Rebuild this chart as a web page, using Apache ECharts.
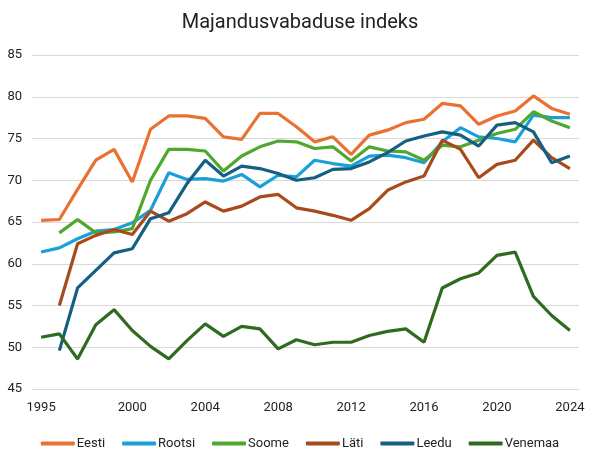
<!DOCTYPE html>
<html>
<head>
<meta charset="utf-8">
<script src="https://cdn.jsdelivr.net/npm/echarts@6/dist/echarts.min.js"></script>
<style>html,body{margin:0;padding:0;background:#fff}#c{width:600px;height:465px}</style>
</head>
<body>
<div id="c"></div>
<script>
var years = [];
for (var y = 1995; y <= 2024; y++) years.push(String(y));
var tickLabels = ['1995','2000','2004','2008','2012','2016','2020','2024'];
var eesti   = [65.2,65.3,68.9,72.4,73.7,69.8,76.1,77.7,77.7,77.4,75.2,74.9,78.0,78.0,76.4,74.6,75.2,73.1,75.4,76.0,76.9,77.3,79.2,78.9,76.7,77.7,78.3,80.1,78.6,77.9];
var rootsi  = [61.4,61.9,63.0,63.9,64.1,64.9,66.4,70.9,70.1,70.2,69.9,70.7,69.2,70.6,70.4,72.4,72.0,71.7,72.9,73.0,72.7,72.1,74.6,76.3,75.2,75.0,74.6,77.8,77.5,77.5];
var soome   = [null,63.7,65.3,63.7,63.8,64.2,70.0,73.7,73.7,73.5,71.1,72.9,74.0,74.7,74.6,73.8,74.0,72.3,74.0,73.5,73.4,72.4,74.2,74.0,74.8,75.6,76.1,78.2,77.1,76.3];
var lati    = [null,55.0,62.4,63.4,64.1,63.5,66.3,65.1,66.0,67.4,66.3,66.9,68.0,68.3,66.7,66.3,65.8,65.2,66.6,68.8,69.8,70.5,74.8,73.7,70.3,71.9,72.4,74.8,72.7,71.4];
var leedu   = [null,49.6,57.1,59.2,61.3,61.8,65.4,66.1,69.6,72.4,70.5,71.7,71.4,70.8,70.0,70.3,71.3,71.4,72.2,73.3,74.7,75.3,75.8,75.4,74.1,76.6,76.9,75.8,72.1,72.9];
var venemaa = [51.2,51.6,48.6,52.7,54.5,52.0,50.1,48.6,50.8,52.8,51.3,52.5,52.2,49.8,50.9,50.3,50.6,50.6,51.4,51.9,52.2,50.6,57.1,58.2,58.9,61.0,61.4,56.1,53.8,52.0];

var names  = ['Eesti','Rootsi','Soome','Läti','Leedu','Venemaa'];
var values = [eesti, rootsi, soome, lati, leedu, venemaa];
var colors = ['#E97132','#1AA0D8','#4EA72E','#A84B1C','#155F82','#2E6B1F'];

var font = 'Roboto, "Liberation Sans", sans-serif';
var chart = echarts.init(document.getElementById('c'));
chart.setOption({
  animation: false,
  color: colors,
  title: {
    text: 'Majandusvabaduse indeks',
    left: 'center', top: 8,
    textStyle: {fontFamily: font, fontSize: 20, fontWeight: 'normal', color: '#222'}
  },
  legend: {
    bottom: 10, left: 'center',
    itemWidth: 34, itemHeight: 4, itemGap: 17,
    icon: 'roundRect',
    textStyle: {fontFamily: font, fontSize: 13, color: '#222', padding: [0,0,0,-3]},
    data: names
  },
  grid: {left: 32, right: 21, top: 55, bottom: 76, containLabel: false},
  xAxis: {
    type: 'category',
    data: years,
    boundaryGap: true,
    axisLine: {show: false},
    axisTick: {show: false},
    axisLabel: {
      fontFamily: font, fontSize: 13, color: '#222', margin: 12,
      hideOverlap: false,
      interval: function (i, v) { return tickLabels.indexOf(String(v)) >= 0; }
    }
  },
  yAxis: {
    type: 'value', min: 45, max: 85, interval: 5,
    axisLabel: {fontFamily: font, fontSize: 13, color: '#222', margin: 10},
    splitLine: {lineStyle: {color: '#d9d9d9', width: 1}}
  },
  series: names.map(function (n, i) {
    return {
      name: n, type: 'line', data: values[i],
      symbol: 'none', lineStyle: {width: 3.2, color: colors[i]},
      itemStyle: {color: colors[i]}
    };
  })
});
</script>
</body>
</html>
